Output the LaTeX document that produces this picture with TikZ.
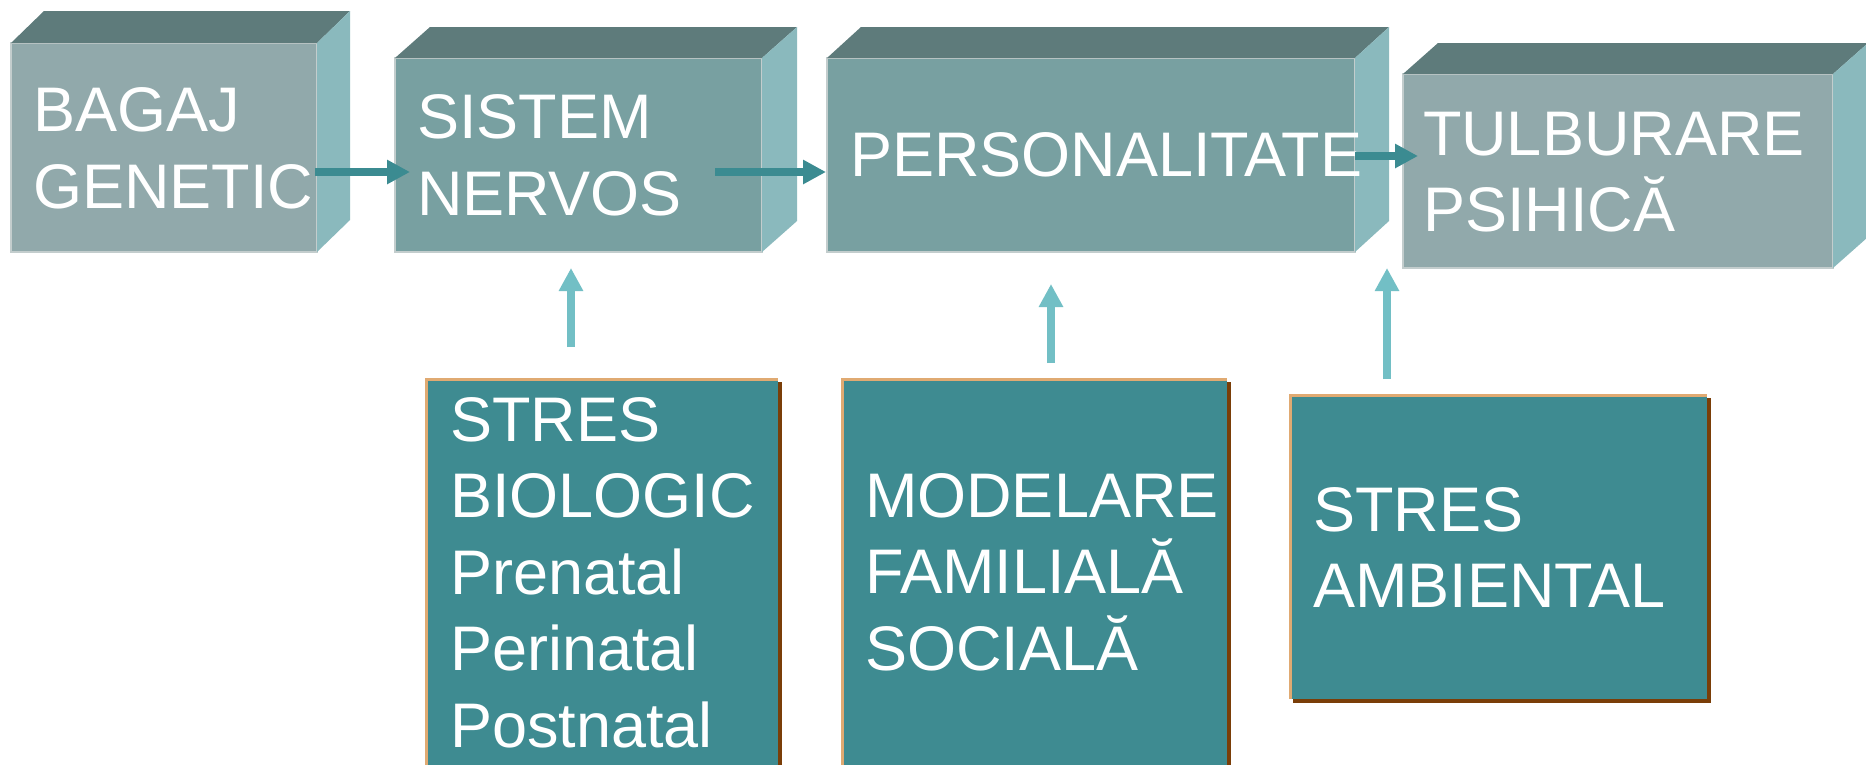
\documentclass[tikz,border=0pt]{standalone}
\usepackage{fontspec}
\setmainfont{Liberation Sans}
\usetikzlibrary{arrows.meta,calc,shadows}
\definecolor{topc}{HTML}{5E7B7B}
\definecolor{sidec}{HTML}{8AB9BD}
\definecolor{frontA}{HTML}{91A9AB}
\definecolor{frontB}{HTML}{78A0A1}
\definecolor{edgec}{HTML}{C3CDCD}
\definecolor{harrc}{HTML}{3B8B91}
\definecolor{varrc}{HTML}{72BFC5}
\definecolor{lowc}{HTML}{3E8B91}
\definecolor{tanc}{HTML}{E0AA72}
\definecolor{brownc}{HTML}{7A3E08}
\newcommand\cubefaces[3]{%
  \fill[topc] (#1.north west) -- ++(#2,-#3) -- ($(#1.north east)+(#2,-#3)$) -- (#1.north east) -- cycle;
  \fill[sidec] (#1.north east) -- ++(#2,-#3) -- ($(#1.south east)+(#2,-#3)$) -- (#1.south east) -- cycle;
}
\newcommand\lowborder[1]{%
  \fill[tanc] (#1.south west) rectangle ($(#1.north west)+(3,0)$);
  \fill[tanc] (#1.north west) rectangle ($(#1.north east)+(0,3)$);
}
\begin{document}
\begin{tikzpicture}[x=1pt,y=-1pt,
  front/.style={anchor=north west, inner sep=0pt, outer sep=0pt, draw=edgec, line width=1.2pt},
  lowbox/.style={anchor=north west, inner sep=0pt, outer sep=0pt, fill=lowc,
     drop shadow={shadow xshift=3.5pt, shadow yshift=-3.5pt, fill=brownc, opacity=1}},
  txt/.style={anchor=north west, inner sep=0pt, outer sep=0pt, text=white, align=left,
     font=\fontsize{63}{76.5}\selectfont},
  harr/.style={draw=harrc, line width=8pt, -{Triangle[length=23pt,width=23pt]}},
  varr/.style={draw=varrc, line width=8pt, -{Triangle[length=23pt,width=23pt]}}]
\useasboundingbox (0,0) rectangle (1866,764);
\fill[white] (0,0) rectangle (1866,764);

% top row boxes
\node[front, fill=frontA, minimum width=306pt, minimum height=209pt] (b1) at (11,43) {};
\cubefaces{b1}{33}{32}
\node[front, fill=frontB, minimum width=367pt, minimum height=194pt] (b2) at (395,58) {};
\cubefaces{b2}{35}{31}
\node[front, fill=frontB, minimum width=528pt, minimum height=194pt] (b3) at (827,58) {};
\cubefaces{b3}{34}{31}
\node[front, fill=frontA, minimum width=430pt, minimum height=194pt] (b4) at (1403,74) {};
\cubefaces{b4}{35}{31}

% bottom boxes
\node[lowbox, minimum width=353pt, minimum height=402pt] (sA) at (425,378) {};
\lowborder{sA}
\node[lowbox, minimum width=386pt, minimum height=402pt] (sB) at (841,378) {};
\lowborder{sB}
\node[lowbox, minimum width=418pt, minimum height=305pt] (sC) at (1289,394) {};
\lowborder{sC}

% texts
\node[txt] (t1) at (33,88) {BAGAJ\\GENETIC};
\node[txt] (t2) at (417,95) {SISTEM\\NERVOS};
\node[txt] (t3) at (850,133) {PERSONALITATE};
\node[txt] (t4) at (1423,112) {TULBURARE\\PSIHICĂ};
\node[txt] (tA) at (450,397) {STRES\\BIOLOGIC\\Prenatal\\Perinatal\\Postnatal};
\node[txt] (tB) at (865,473) {MODELARE\\FAMILIALĂ\\SOCIALĂ};
\node[txt] (tC) at (1313,487) {STRES\\AMBIENTAL};

% horizontal arrows
\draw[harr] ($(b1.north east)+(-2,129)$) -- ($(b2.north west)+(15,114)$);
\draw[harr] ($(b2.north west)+(320,114)$) -- ($(b3.north west)+(-1,114)$);
\draw[harr] ($(b3.north east)+(0,98)$) -- ($(b4.north west)+(15,82)$);

% vertical arrows
\draw[varr] ($(sA.north west)+(146,-31)$) -- ($(b2.south west)+(176,16)$);
\draw[varr] ($(sB.north west)+(210,-15)$) -- ($(b3.south west)+(224,32)$);
\draw[varr] ($(sC.north west)+(98,-15)$) -- ($(b3.south east)+(32,16)$);
\end{tikzpicture}
\end{document}
